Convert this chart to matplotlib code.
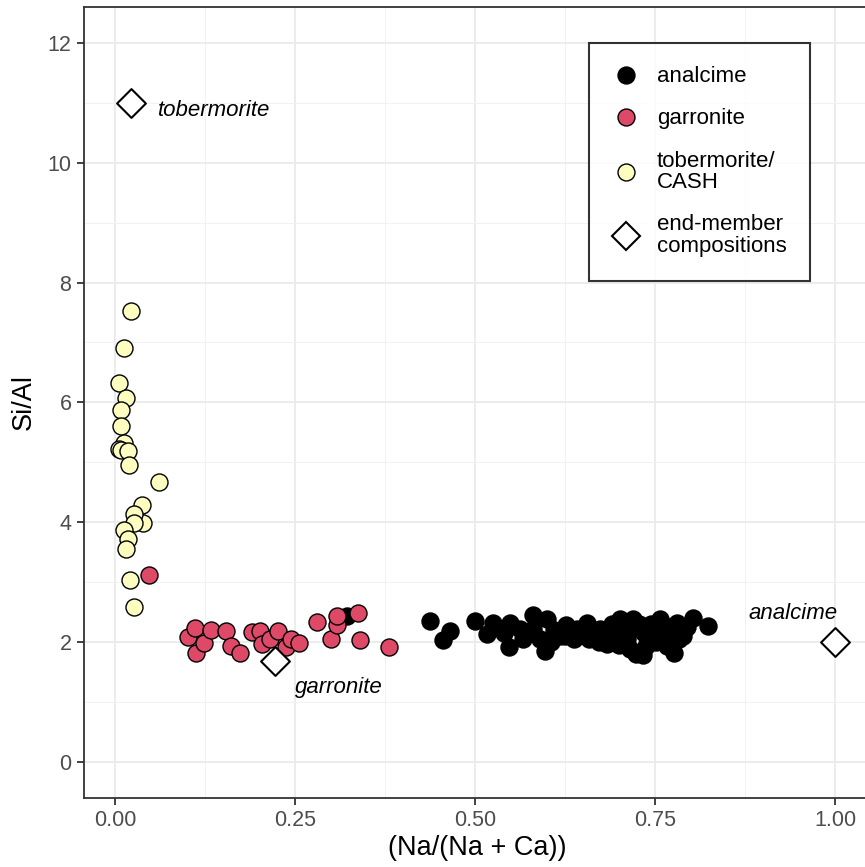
import numpy as np
import matplotlib.pyplot as plt
from matplotlib.lines import Line2D

plt.rcParams['font.family'] = ['Liberation Sans', 'DejaVu Sans']

# tobermorite / CASH points (Na/(Na+Ca), Si/Al)
tob_x = [0.022, 0.012, 0.006, 0.016, 0.009, 0.009, 0.012, 0.006, 0.009, 0.018,
         0.019, 0.061, 0.038, 0.039, 0.026, 0.026, 0.013, 0.018, 0.016, 0.021, 0.026]
tob_y = [7.53, 6.91, 6.33, 6.07, 5.88, 5.61, 5.32, 5.22, 5.21, 5.18,
         4.96, 4.67, 4.29, 3.98, 4.13, 3.99, 3.87, 3.72, 3.56, 3.04, 2.58]

# garronite points
gar_x = [0.047, 0.102, 0.111, 0.113, 0.123, 0.134, 0.154, 0.161, 0.174, 0.190,
         0.201, 0.204, 0.215, 0.226, 0.2375, 0.245, 0.255, 0.280, 0.2996, 0.308,
         0.308, 0.338, 0.341, 0.380]
gar_y = [3.12, 2.09, 2.24, 1.81, 1.99, 2.20, 2.18, 1.93, 1.82, 2.16,
         2.18, 1.96, 2.05, 2.18, 1.91, 2.05, 1.98, 2.33, 2.05, 2.29,
         2.43, 2.48, 2.03, 1.91]

# analcime points
ana_x = [0.322, 0.437, 0.456, 0.466, 0.500, 0.516, 0.525, 0.547, 0.549, 0.562,
         0.567, 0.580, 0.581, 0.590, 0.600, 0.597, 0.610, 0.618, 0.627, 0.637,
         0.641, 0.648, 0.655, 0.662, 0.674, 0.683, 0.690, 0.695, 0.701, 0.705,
         0.711, 0.714, 0.720, 0.724, 0.729, 0.734, 0.738, 0.742, 0.748, 0.752,
         0.757, 0.760, 0.766, 0.770, 0.776, 0.780, 0.784, 0.789, 0.795, 0.803,
         0.824, 0.700, 0.715, 0.728, 0.745, 0.760, 0.690, 0.672, 0.735, 0.708,
         0.625, 0.658, 0.772, 0.540, 0.605]
ana_y = [2.43, 2.35, 2.03, 2.18, 2.35, 2.13, 2.32, 1.91, 2.32, 2.21,
         2.05, 2.45, 2.21, 2.05, 2.38, 1.85, 2.20, 2.10, 2.28, 2.05,
         2.21, 2.15, 2.32, 2.10, 2.21, 1.96, 2.30, 2.05, 2.38, 2.15,
         2.05, 2.30, 2.38, 1.80, 2.21, 1.78, 1.93, 2.10, 2.21, 2.00,
         2.38, 2.15, 1.93, 2.25, 1.82, 2.32, 2.05, 2.10, 2.25, 2.40,
         2.27, 1.95, 1.88, 2.30, 2.30, 2.05, 2.12, 2.00, 2.15, 2.25,
         2.10, 2.05, 2.20, 2.15, 2.00]

# end-member compositions
end_x = [0.022, 0.222, 1.0]
end_y = [11.0, 1.69, 2.0]
end_lab = ['tobermorite', 'garronite', 'analcime']

fig = plt.figure(figsize=(8.65, 8.67), dpi=100)
ax = fig.add_axes([84/865, 1 - 797.7/867, 787/865, 790.7/867])

ax.set_xlim(-0.043, 1.05)
ax.set_ylim(-0.6, 12.6)
ax.set_xticks([0, 0.25, 0.5, 0.75, 1.0])
ax.set_xticklabels(['0.00', '0.25', '0.50', '0.75', '1.00'])
ax.set_yticks([0, 2, 4, 6, 8, 10, 12])
ax.set_xticks([0.125, 0.375, 0.625, 0.875], minor=True)
ax.set_yticks([1, 3, 5, 7, 9, 11], minor=True)
ax.grid(which='major', color='#ebebeb', lw=1.3)
ax.grid(which='minor', color='#f2f2f2', lw=0.7)
ax.set_axisbelow(True)
ax.tick_params(which='major', length=5, width=1.3, color='#333333',
               labelsize=15.5, labelcolor='#4d4d4d', pad=4)
ax.tick_params(which='minor', length=0)
for s in ax.spines.values():
    s.set_color('#333333')
    s.set_linewidth(1.3)

ax.scatter(ana_x, ana_y, s=150, c='black', edgecolors='black', lw=1, zorder=3)
ax.scatter(gar_x, gar_y, s=150, c='#de4968', edgecolors='black', lw=1, zorder=3)
ax.scatter(tob_x, tob_y, s=150, c='#fcfdbf', edgecolors='black', lw=1, zorder=3)
ax.scatter(end_x, end_y, s=215, marker='D', c='white', edgecolors='black', lw=1.5, zorder=4)

offs = [(0.038, -0.13), (0.028, -0.45), (-0.12, 0.47)]
for xx, yy, lab, (dx, dy) in zip(end_x, end_y, end_lab, offs):
    ax.text(xx + dx, yy + dy, lab, style='italic', fontsize=16, va='center', ha='left')

ax.set_xlabel('(Na/(Na + Ca))', fontsize=19.5, labelpad=3)
ax.set_ylabel('Si/Al', fontsize=19.5, labelpad=8)

handles = [
    Line2D([], [], ls='none', marker='o', ms=12.2, mfc='black', mec='black'),
    Line2D([], [], ls='none', marker='o', ms=12.2, mfc='#de4968', mec='black'),
    Line2D([], [], ls='none', marker='o', ms=12.2, mfc='#fcfdbf', mec='black'),
    Line2D([], [], ls='none', marker='D', ms=14.5, mfc='white', mec='black', mew=1.5),
]
labels = ['analcime', 'garronite', 'tobermorite/\nCASH', 'end-member\ncompositions']
leg = ax.legend(handles, labels, loc='upper left', bbox_to_anchor=(589/865, 1 - 43/867),
                bbox_transform=fig.transFigure, fontsize=16, frameon=True, fancybox=False,
                edgecolor='black', borderpad=1.05, labelspacing=0.95, handletextpad=0.75,
                handlelength=1.25, borderaxespad=0)
for t in leg.get_texts():
    t.set_linespacing(1.05)
leg.get_frame().set_linewidth(1.5)

fig.savefig('out.png', dpi=100)
